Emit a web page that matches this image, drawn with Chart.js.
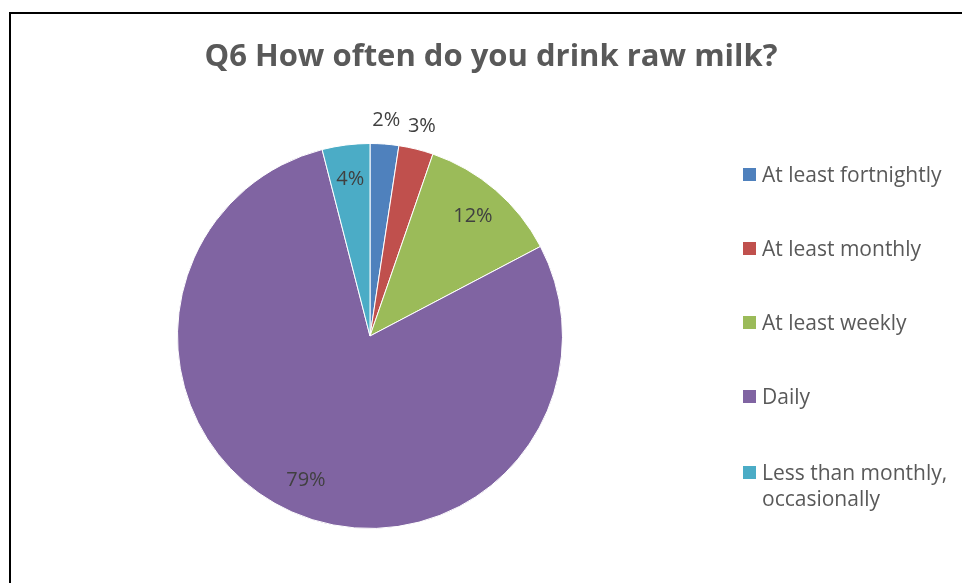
<!DOCTYPE html>
<html>
<head>
<meta charset="utf-8">
<script src="https://cdn.jsdelivr.net/npm/chart.js@4.4.1/dist/chart.umd.min.js"></script>
<style>
    html, body { margin: 0; padding: 0; background: #fff; overflow: hidden; }
    #wrap { position: relative; width: 962px; height: 583px; }
    #frame { position: absolute; left: 9px; top: 12px; width: 980px; height: 700px; border: 2px solid #000; box-sizing: border-box; }
    #title { position: absolute; left: 0; top: 33px; width: 982px; text-align: center; font: bold 31px "Open Sans", sans-serif; color: #595959; }
    #legend { position: absolute; left: 743px; top: 0; font: 21px "Open Sans", sans-serif; color: #595959; }
    .item { position: absolute; left: 0; width: 230px; line-height: 26px; }
    .box { position: absolute; left: 0; top: 7px; width: 13px; height: 13px; }
    .txt { margin-left: 19px; white-space: nowrap; }
    canvas { position: absolute; left: 0; top: 0; }
</style>
</head>
<body>
<div id="wrap">
    <canvas id="pie" width="962" height="583"></canvas>
    <div id="frame"></div>
    <div id="title">Q6 How often do you drink raw milk?</div>
    <div id="legend"></div>
</div>
<script>
// 数据
const categories = ['At least fortnightly', 'At least monthly', 'At least weekly', 'Daily', 'Less than monthly, occasionally'];
const legendLines = [['At least fortnightly'], ['At least monthly'], ['At least weekly'], ['Daily'], ['Less than monthly,', 'occasionally']];
const shares = [2.4, 2.9, 12.0, 78.7, 4.0];
const colors = ['#4F81BD', '#C0504D', '#9BBB59', '#8064A2', '#4BACC6'];

// 图例
const legendTops = [161, 235, 309, 383, 459];
document.getElementById('legend').innerHTML = legendLines.map((lines, i) => `
    <div class="item" style="top:${legendTops[i]}px">
        <div class="box" style="background:${colors[i]}"></div>
        <div class="txt">${lines.join('<br>')}</div>
    </div>
`).join('');

// 百分比标签
const pctLabels = {
    id: 'pctLabels',
    afterDatasetsDraw(chart) {
        const ctx = chart.ctx;
        const meta = chart.getDatasetMeta(0);
        const total = shares.reduce((a, b) => a + b, 0);
        ctx.save();
        ctx.font = '20px "Open Sans", sans-serif';
        ctx.fillStyle = '#404040';
        ctx.textAlign = 'center';
        ctx.textBaseline = 'middle';
        meta.data.forEach((arc, i) => {
            const pct = shares[i] / total * 100;
            const mid = (arc.startAngle + arc.endAngle) / 2;
            const r = pct < 3.5 ? arc.outerRadius + 24 : arc.outerRadius * 0.82;
            const x = arc.x + Math.cos(mid) * r;
            const y = arc.y + Math.sin(mid) * r;
            ctx.fillText(Math.round(pct) + '%', x, y);
        });
        ctx.restore();
    }
};

new Chart(document.getElementById('pie'), {
    type: 'pie',
    data: {
        labels: categories,
        datasets: [{
            data: shares,
            backgroundColor: colors,
            borderColor: '#ffffff',
            borderWidth: 1
        }]
    },
    options: {
        responsive: false,
        animation: false,
        layout: { padding: { left: 177, right: 399, top: 143, bottom: 54 } },
        plugins: {
            legend: { display: false },
            tooltip: { enabled: false },
            title: { display: false }
        }
    },
    plugins: [pctLabels]
});
</script>
</body>
</html>
